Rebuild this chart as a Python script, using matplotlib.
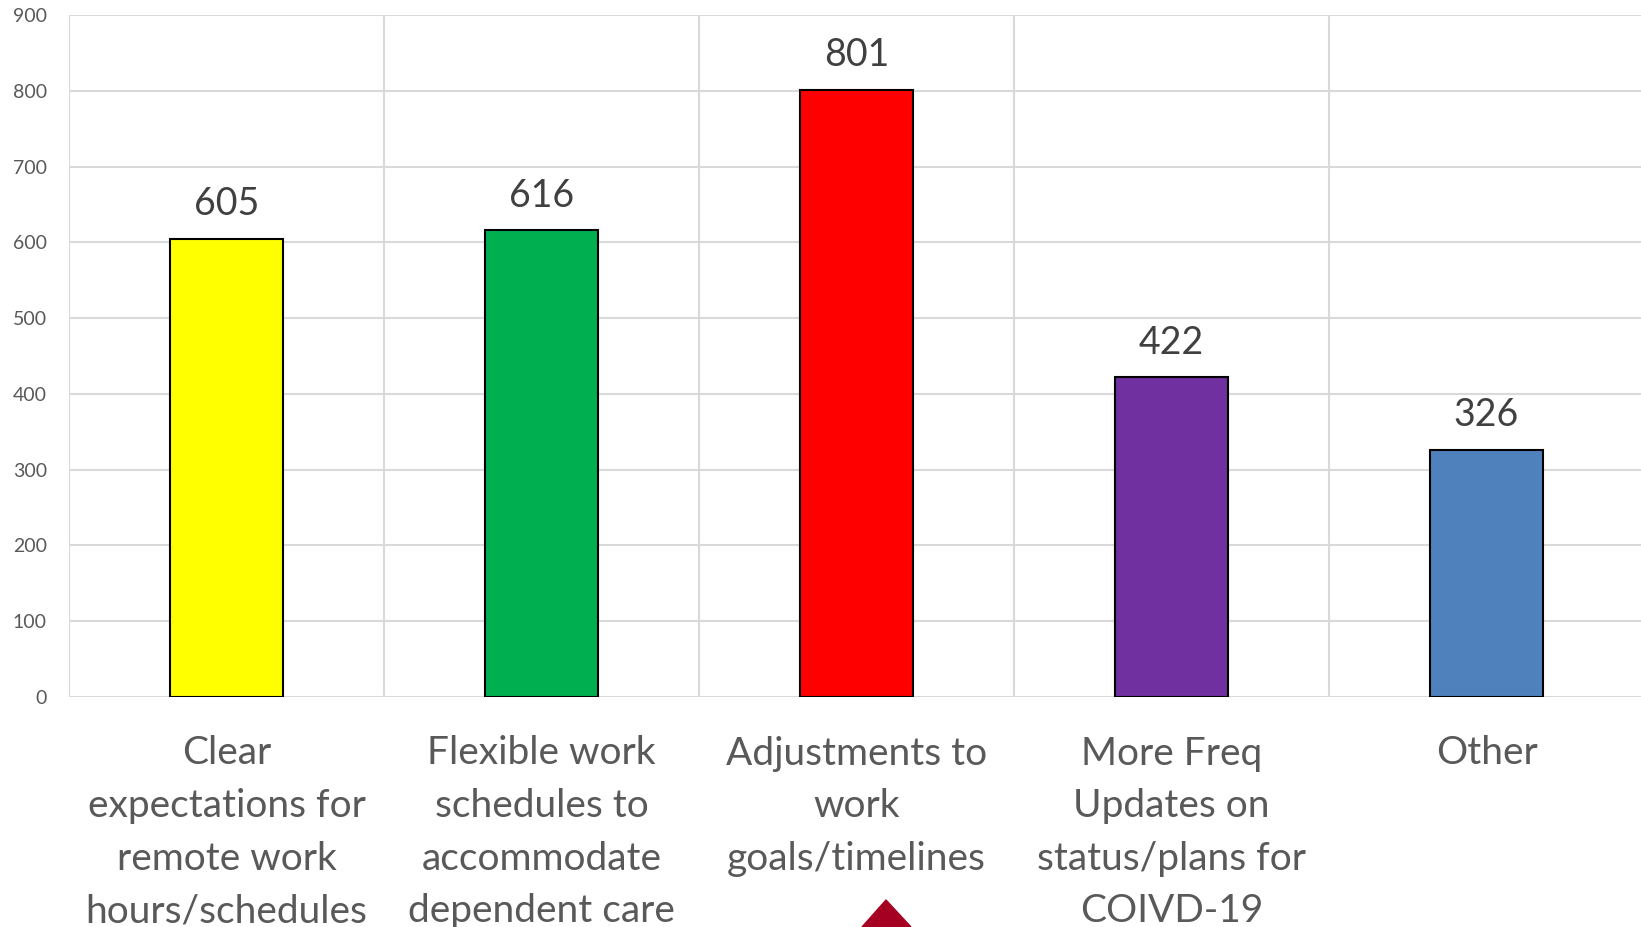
import matplotlib.pyplot as plt
from matplotlib.patches import Polygon
from matplotlib.transforms import blended_transform_factory, offset_copy

plt.rcParams['font.family'] = ['Lato', 'DejaVu Sans']

# datos
categorias = ['Clear\nexpectations for\nremote work\nhours/schedules',
              'Flexible work\nschedules to\naccommodate\ndependent care',
              'Adjustments to\nwork\ngoals/timelines',
              'More Freq\nUpdates on\nstatus/plans for\nCOIVD-19',
              'Other']
valores = [605, 616, 801, 422, 326]
colores = ['#FFFF00', '#00B050', '#FF0000', '#7030A0', '#4F81BD']
yticks = [0, 100, 200, 300, 400, 500, 600, 700, 800, 900]

gris = '#595959'
rejilla = '#D9D9D9'

fig = plt.figure(figsize=(16.41, 9.27), dpi=100)
ax = fig.add_axes([69 / 1641, 230 / 927, 1575 / 1641, 682 / 927])

x = list(range(len(categorias)))
ax.bar(x, valores, width=0.356, color=colores, edgecolor='black', linewidth=1.5, zorder=3)

ax.set_xlim(-0.5, len(categorias) - 0.5)
ax.set_ylim(0, 900)
ax.set_yticks(yticks)
ax.set_yticklabels([str(v) for v in yticks], fontsize=14, color=gris)
ax.tick_params(axis='y', length=0, pad=16)
ax.set_xticks([])

# rejilla horizontal y separadores verticales
ax.grid(axis='y', color=rejilla, linewidth=1.5, zorder=0)
for b in range(len(categorias)):
    ax.axvline(b - 0.5, color=rejilla, linewidth=1.5, zorder=0)
for s in ax.spines.values():
    s.set_visible(False)
ax.axhline(0, color=rejilla, linewidth=2, zorder=1)

# etiquetas de valor
for xi, v in zip(x, valores):
    ax.annotate(str(v), (xi, v), xytext=(0, 17), textcoords='offset points',
                ha='center', va='baseline', fontsize=27, color='#404040')

# etiquetas de categoria
trans = offset_copy(blended_transform_factory(ax.transData, ax.transAxes),
                    fig=fig, y=-38.5 * 72 / 100, units='points')
for xi, c in zip(x, categorias):
    ax.text(xi, 0, c, transform=trans, ha='center', va='top',
            fontsize=28, color=gris, linespacing=1.57)

# triangulo decorativo abajo
tri = Polygon([(862 / 1641, 0), (911 / 1641, 0), (886 / 1641, 27 / 927)],
              closed=True, transform=fig.transFigure, color='#A50021')
fig.patches.append(tri)

fig.savefig('out.png', dpi=100)
